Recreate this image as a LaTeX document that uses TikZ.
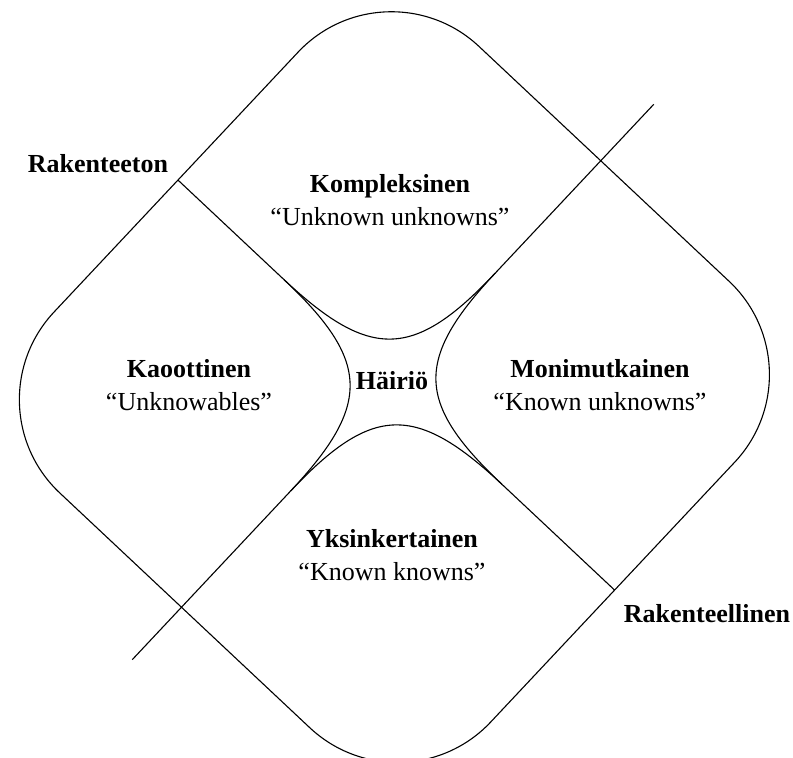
\documentclass[tikz,border=0pt]{standalone}
\usepackage{fontspec}
\setmainfont{Liberation Serif}
\usetikzlibrary{positioning}

\tikzset{
    field name/.style={font=\fontsize{26}{31}\selectfont\bfseries, anchor=base, inner sep=0pt},
    field quote/.style={font=\fontsize{26}{31}\selectfont, anchor=base, inner sep=0pt},
    frame line/.style={line width=1.1pt, line join=round}
}

\begin{document}
\begin{tikzpicture}[x=1pt, y=1pt]
    \useasboundingbox (0,0) rectangle (793,758);

    % Frame and axes, in the turned square
    \begin{scope}[shift={(393,376)}, rotate=-43.2, frame line]
        \coordinate (corner-w) at (-295,0);
        \coordinate (corner-e) at (304,0);
        \coordinate (axis-n) at (0,381);
        \coordinate (axis-s) at (0,-381);
        \coordinate (cut-w) at (-150,0);
        \coordinate (cut-e) at (150,0);
        \coordinate (cut-n) at (0,150);
        \coordinate (cut-s) at (0,-150);

        \draw[rounded corners=128pt] (-295,-309) rectangle (304,303.5);

        \draw (corner-w) -- (cut-w);
        \draw (corner-e) -- (cut-e);
        \draw (axis-n) -- (cut-n);
        \draw (axis-s) -- (cut-s);

        % Centre curves
        \draw (cut-w) .. controls (-31,0) and (0,31) .. (cut-n);
        \draw (cut-w) .. controls (-31,0) and (0,-31) .. (cut-s);
        \draw (cut-e) .. controls (31,0) and (0,31) .. (cut-n);
        \draw (cut-e) .. controls (31,0) and (0,-31) .. (cut-s);
    \end{scope}

    % Fields
    \node[field name] (kompleksinen) at (390,565) {Kompleksinen};
    \node[field quote] (kompleksinen-q) at ([yshift=-33pt]kompleksinen.base) {“Unknown unknowns”};

    \node[field name] (kaoottinen) at (189,380) {Kaoottinen};
    \node[field quote] (kaoottinen-q) at ([yshift=-33pt]kaoottinen.base) {“Unknowables”};

    \node[field name] (monimutkainen) at (600,380) {Monimutkainen};
    \node[field quote] (monimutkainen-q) at ([yshift=-33pt]monimutkainen.base) {“Known unknowns”};

    \node[field name] (yksinkertainen) at (392,210) {Yksinkertainen};
    \node[field quote] (yksinkertainen-q) at ([yshift=-33pt]yksinkertainen.base) {“Known knowns”};

    \node[field name] (hairio) at (392,368) {Häiriö};

    % Axis labels
    \node[field name] (rakenteeton) at (98,585) {Rakenteeton};
    \node[field name] (rakenteellinen) at (707,135) {Rakenteellinen};
\end{tikzpicture}
\end{document}
